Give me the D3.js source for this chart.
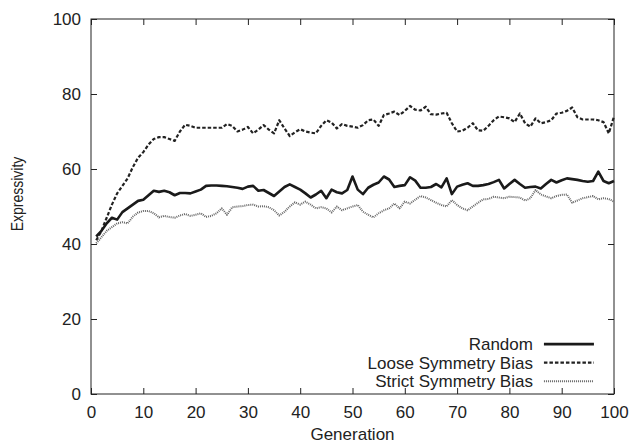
<!DOCTYPE html>
<html>
<head>
<meta charset="utf-8">
<script src="https://cdn.jsdelivr.net/npm/d3@7"></script>
<style>
	body { margin: 0; background: #fff; }
	text { font-family: "Liberation Sans", Arial, sans-serif; fill: #222; }
</style>
</head>
<body>
<div id="plot"></div>
<script>
// Values, one entry per generation (1..100)
const generations = d3.range(1, 101);

const randomValues = [
	42, 43.5, 45.5, 47, 46.5, 48.5, 49.5, 50.5, 51.5, 51.8,
	53, 54.2, 53.9, 54.2, 53.8, 53, 53.6, 53.6, 53.5, 54,
	54.5, 55.5, 55.6, 55.6, 55.5, 55.4, 55.2, 55, 54.7, 55.3,
	55.5, 54.2, 54.4, 53.6, 52.8, 54, 55.2, 55.9, 55.2, 54.5,
	53.5, 52.4, 53.2, 54.2, 52.2, 54.5, 53.8, 53.5, 54.4, 58,
	54.5, 53.3, 55, 55.8, 56.4, 58, 57.2, 55.2, 55.5, 55.7,
	57.8, 56.9, 55, 55, 55.2, 56, 55.1, 57.5, 53.3, 55.3,
	55.8, 56.2, 55.5, 55.5, 55.7, 56, 56.5, 57.1, 54.8, 56,
	57.1, 56, 55, 55.2, 55.3, 54.8, 56, 57.1, 56.4, 57,
	57.5, 57.3, 57.1, 56.8, 56.6, 56.8, 59.3, 56.8, 56.2, 56.8
];

const looseValues = [
	41, 43.5, 47, 50.5, 53.5, 55.5, 57.5, 60.5, 63, 64.5,
	66.5, 68, 68.5, 68.5, 68, 67.5, 70, 71.8, 71.5, 71,
	71, 71, 71, 71, 71, 72, 71.5, 70, 70.5, 71.2,
	69.5, 70.5, 71.7, 70.5, 69.5, 73, 70.8, 68.8, 69.8, 70.6,
	70, 69.7, 69.5, 71.5, 73, 72.4, 70.8, 72, 71.5, 71.3,
	71, 71.7, 73, 73.2, 71.5, 74.4, 74.8, 75.3, 74.4, 75.5,
	76.8, 75.8, 75.6, 76.6, 74.6, 74.5, 74.8, 75, 72.2, 70,
	70.2, 71, 72.2, 70.3, 70.2, 71.5, 73, 74, 73.8, 73.5,
	72.5, 74.8, 72.2, 71.3, 73.5, 72.2, 72.5, 73, 74.8, 75,
	75.5, 76.4, 73.8, 73.2, 73.2, 73.2, 73, 72.5, 69.5, 74
];

const strictValues = [
	40.2, 41.8, 43.5, 44.5, 45.5, 45.8, 45.5, 47.3, 48.4, 48.8,
	48.8, 48.2, 47.1, 47.5, 47.2, 47, 47.6, 48, 47.5, 47.8,
	48.2, 47.2, 47.5, 48.2, 49.5, 47.8, 49.8, 50, 50.1, 50.4,
	50.5, 50, 50.1, 49.8, 49, 47.6, 48.6, 50, 51.1, 50.5,
	51.3, 50.5, 49.5, 49.8, 49.5, 48.4, 50, 49, 49.5, 50,
	50.4, 48.6, 47.8, 47.1, 48.2, 49, 49.5, 50.8, 49.5, 51.3,
	50.8, 51.8, 52.8, 52.4, 51.7, 51, 50.4, 50, 51.7, 50.4,
	49.5, 49, 50, 51, 51.9, 52, 52.6, 52.4, 52.2, 52.6,
	52.5, 52.4, 51.6, 52.2, 54.4, 53.2, 52.7, 52.2, 52.8, 53.1,
	53.2, 51, 51.6, 52.2, 52.5, 52.8, 51.9, 52.2, 52, 51.3
];

const seriesNames = ["Random", "Loose Symmetry Bias", "Strict Symmetry Bias"];
const xTicks = d3.range(0, 101, 10);
const yTicks = d3.range(0, 101, 20);

const width = 634, height = 445;
const margins = { left: 91, right: 20, top: 19, bottom: 51 };
const innerW = width - margins.left - margins.right;
const innerH = height - margins.top - margins.bottom;

const svg = d3.select("#plot")
	.append("svg")
		.attr("width", width).attr("height", height);
const g = svg.append("g")
	.attr("transform", `translate(${margins.left}, ${margins.top})`);

const xScale = d3.scaleLinear().domain([0, 100]).range([0, innerW]);
const yScale = d3.scaleLinear().domain([0, 100]).range([innerH, 0]);

// Axes: gnuplot style, ticks pointing inward on all four sides
const tickLen = 6;
const styleAxis = (sel) => {
	sel.select(".domain").remove();
	sel.selectAll("line").attr("stroke", "#222");
	sel.selectAll("text").style("font-size", "17px").attr("fill", "#222");
};
g.append("g").attr("transform", `translate(0, ${innerH})`)
	.call(d3.axisBottom(xScale).tickValues(xTicks).tickSize(-tickLen).tickPadding(12))
	.call(styleAxis);
g.append("g")
	.call(d3.axisLeft(yScale).tickValues(yTicks).tickSize(-tickLen).tickPadding(10))
	.call(styleAxis);
g.append("g")
	.call(d3.axisTop(xScale).tickValues(xTicks).tickSize(-tickLen).tickFormat(""))
	.call(styleAxis);
g.append("g").attr("transform", `translate(${innerW}, 0)`)
	.call(d3.axisRight(yScale).tickValues(yTicks).tickSize(-tickLen).tickFormat(""))
	.call(styleAxis);

g.append("rect")
	.attr("width", innerW).attr("height", innerH)
	.attr("fill", "none").attr("stroke", "#222").attr("stroke-width", 1);

// Lines
const seriesStyles = [
	{ values: randomValues, stroke: "#1a1a1a", width: 2.6, dash: null },
	{ values: looseValues, stroke: "#222", width: 2.2, dash: "3.5,2" },
	{ values: strictValues, stroke: "#666", width: 2, dash: "1,1" }
];
const line = d3.line().x((d, i) => xScale(generations[i])).y(d => yScale(d));
seriesStyles.slice().reverse().forEach(s => {
	g.append("path")
		.datum(s.values)
		.attr("d", line)
		.attr("fill", "none")
		.attr("stroke", s.stroke)
		.attr("stroke-width", s.width)
		.attr("stroke-dasharray", s.dash)
		.attr("stroke-linejoin", "round");
});

// Legend
const legend = g.append("g").attr("transform", `translate(${xScale(84.5)}, ${yScale(13.3)})`);
seriesNames.forEach((name, i) => {
	const row = legend.append("g").attr("transform", `translate(0, ${i * 18.5})`);
	row.append("text")
		.attr("text-anchor", "end").attr("dy", "0.35em")
		.style("font-size", "17px")
		.text(name);
	row.append("line")
		.attr("x1", 11).attr("x2", 61)
		.attr("stroke", seriesStyles[i].stroke)
		.attr("stroke-width", seriesStyles[i].width)
		.attr("stroke-dasharray", seriesStyles[i].dash);
});

// Axis titles
svg.append("text")
	.attr("x", margins.left + innerW / 2).attr("y", 440)
	.attr("text-anchor", "middle")
	.style("font-size", "17px")
	.text("Generation");
svg.append("text")
	.attr("transform", `translate(23, 194) rotate(-90) scale(0.85, 1)`)
	.attr("text-anchor", "middle")
	.style("font-size", "16.5px")
	.text("Expressivity");
</script>
</body>
</html>
